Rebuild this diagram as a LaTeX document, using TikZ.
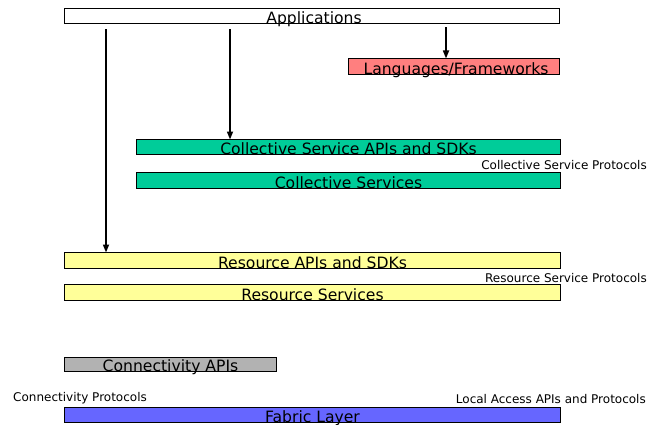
\documentclass[tikz,border=0pt]{standalone}
\usepackage{fontspec}
\setmainfont{DejaVu Sans}
\usetikzlibrary{arrows.meta}
\definecolor{cRed}{HTML}{FF7F7F}
\definecolor{cGreen}{HTML}{00CC99}
\definecolor{cYellow}{HTML}{FFFF99}
\definecolor{cGray}{HTML}{B2B2B2}
\definecolor{cBlue}{HTML}{6666FF}
\begin{document}
\begin{tikzpicture}[x=1pt,y=-1pt,
  layer/.style={draw=black, line width=1.8pt, inner sep=0pt, outer sep=0pt},
  lbl/.style={anchor=base, inner sep=0pt, font=\fontsize{15.6}{16}\selectfont},
  small/.style={inner sep=0pt, font=\fontsize{12}{13}\selectfont},
  arr/.style={line width=1.6pt, -{Triangle[length=8pt,width=6pt]}}]
\useasboundingbox (0,0) rectangle (658,425);
% boxes
\node[layer, fill=white, minimum width=495pt, minimum height=15pt] (apps) at (312,16) {};
\node[layer, fill=cRed, minimum width=211pt, minimum height=16pt] (langs) at (454,66.5) {};
\node[layer, fill=cGreen, minimum width=424pt, minimum height=15pt] (csapi) at (348.5,147) {};
\node[layer, fill=cGreen, minimum width=424pt, minimum height=16pt] (cs) at (348.5,180.5) {};
\node[layer, fill=cYellow, minimum width=496pt, minimum height=16pt] (rapi) at (312.5,260.5) {};
\node[layer, fill=cYellow, minimum width=496pt, minimum height=16pt] (rs) at (312.5,292.5) {};
\node[layer, fill=cGray, minimum width=212pt, minimum height=14pt] (conn) at (170.5,364.5) {};
\node[layer, fill=cBlue, minimum width=496pt, minimum height=15pt] (fabric) at (312.5,415) {};
% box labels
\node[lbl] (appsT) at ([xshift=2pt]apps.south) {Applications};
\node[lbl] (langsT) at ([xshift=2pt]langs.south) {Languages/Frameworks};
\node[lbl] (csapiT) at (csapi.south) {Collective Service APIs and SDKs};
\node[lbl] (csT) at (cs.south) {Collective Services};
\node[lbl] (rapiT) at (rapi.south) {Resource APIs and SDKs};
\node[lbl] (rsT) at (rs.south) {Resource Services};
\node[lbl] (connT) at (conn.south) {Connectivity APIs};
\node[lbl] (fabricT) at (fabric.south) {Fabric Layer};
% side labels
\node[small, anchor=base east] (csp) at (647,169) {Collective Service Protocols};
\node[small, anchor=base east] (rsp) at (647,282) {Resource Service Protocols};
\node[small, anchor=base west] (cp) at (13,401) {Connectivity Protocols};
\node[small, anchor=base east] (lap) at (646,403) {Local Access APIs and Protocols};
% arrows
\coordinate (a1) at (106,0);
\coordinate (a2) at (230,0);
\coordinate (a3) at (446,0);
\draw[arr, shorten <=6pt] (apps.south -| a1) -- (rapi.north -| a1);
\draw[arr, shorten <=6pt] (apps.south -| a2) -- (csapi.north -| a2);
\draw[arr, shorten <=4pt] (apps.south -| a3) -- (langs.north -| a3);
\end{tikzpicture}
\end{document}
